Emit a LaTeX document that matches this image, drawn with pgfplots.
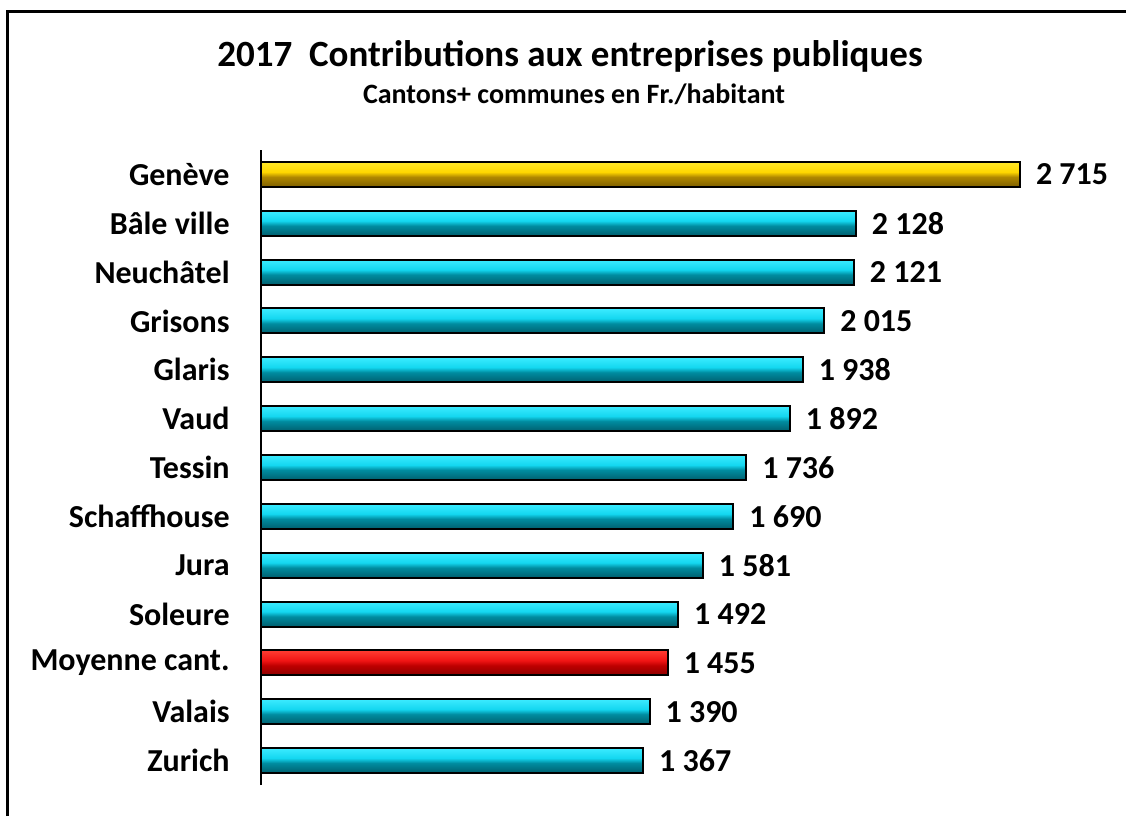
\documentclass[border=0pt]{standalone}
\usepackage{fontspec}
\setmainfont{Carlito}
\usepackage{pgfplots}
\pgfplotsset{compat=1.18}
\definecolor{ydark}{RGB}{125,95,0}
\definecolor{ymid}{RGB}{175,135,0}
\definecolor{ybright}{RGB}{255,215,0}
\definecolor{ylight}{RGB}{255,232,40}
\definecolor{cdark}{RGB}{0,95,110}
\definecolor{cmid}{RGB}{0,140,160}
\definecolor{cbright}{RGB}{20,215,240}
\definecolor{clight}{RGB}{60,235,255}
\definecolor{rdark}{RGB}{140,0,0}
\definecolor{rmid}{RGB}{190,0,0}
\definecolor{rbright}{RGB}{240,20,20}
\definecolor{rlight}{RGB}{255,60,50}
\pgfdeclareverticalshading{ybar}{100bp}{color(0bp)=(ydark); color(25bp)=(ydark); color(45bp)=(ymid); color(55bp)=(ybright); color(75bp)=(ylight); color(100bp)=(ylight)}
\pgfdeclareverticalshading{cbar}{100bp}{color(0bp)=(cdark); color(25bp)=(cdark); color(45bp)=(cmid); color(55bp)=(cbright); color(75bp)=(clight); color(100bp)=(clight)}
\pgfdeclareverticalshading{rbar}{100bp}{color(0bp)=(rdark); color(25bp)=(rdark); color(45bp)=(rmid); color(55bp)=(rbright); color(75bp)=(rlight); color(100bp)=(rlight)}
\pgfplotsset{
  cyanbar/.style={draw=black, line width=1pt, shade, shading=cbar},
  redbar/.style={draw=black, line width=1pt, shade, shading=rbar},
  goldbar/.style={draw=black, line width=1pt, shade, shading=ybar},
}
\begin{document}
\begin{tikzpicture}
\path[use as bounding box] (0,0) rectangle (563pt,408pt);
\draw[line width=1.5pt] (3.5pt,0) -- (3.5pt,402pt) -- (563pt,402pt);
\node[anchor=base, inner sep=0pt, font=\fontsize{18.5}{22}\selectfont\bfseries] at (285pt,374.5pt) {2017\ \ Contributions aux entreprises publiques};
\node[anchor=base, inner sep=0pt, font=\fontsize{14}{17}\selectfont\bfseries] at (287pt,356pt) {Cantons+ communes en Fr./habitant};
\begin{axis}[
  at={(130.5pt,15.5pt)}, anchor=south west,
  scale only axis, width=379.5pt, height=317.5pt,
  xmin=0, xmax=2715, ymin=-0.5, ymax=12.5,
  clip=false,
  axis x line=none, axis y line=left,
  axis line style={-, line width=0.8pt},
  ytick={0,...,12},
  yticklabels={Zurich,Valais,Moyenne cant.,Soleure,Jura,Schaffhouse,Tessin,Vaud,Glaris,Grisons,Neuchâtel,Bâle ville,Genève},
  major tick length=0pt,
  yticklabel style={anchor=east, inner sep=0pt, xshift=-15.5pt, font=\fontsize{16}{19}\selectfont\bfseries},
  xbar, bar width=12.5pt, bar shift=0pt,
  nodes near coords,
  /pgf/number format/assume math mode=true,
  /pgf/number format/1000 sep={\ },
  every node near coord/.append style={anchor=west, inner sep=0pt, xshift=7.5pt, font=\fontsize{16}{19}\selectfont\bfseries, text=black},
]
\addplot[cyanbar] coordinates {(1367,0)};
\addplot[cyanbar] coordinates {(1390,1)};
\addplot[redbar] coordinates {(1455,2)};
\addplot[cyanbar] coordinates {(1492,3)};
\addplot[cyanbar] coordinates {(1581,4)};
\addplot[cyanbar] coordinates {(1690,5)};
\addplot[cyanbar] coordinates {(1736,6)};
\addplot[cyanbar] coordinates {(1892,7)};
\addplot[cyanbar] coordinates {(1938,8)};
\addplot[cyanbar] coordinates {(2015,9)};
\addplot[cyanbar] coordinates {(2121,10)};
\addplot[cyanbar] coordinates {(2128,11)};
\addplot[goldbar] coordinates {(2715,12)};
\end{axis}
\end{tikzpicture}
\end{document}
